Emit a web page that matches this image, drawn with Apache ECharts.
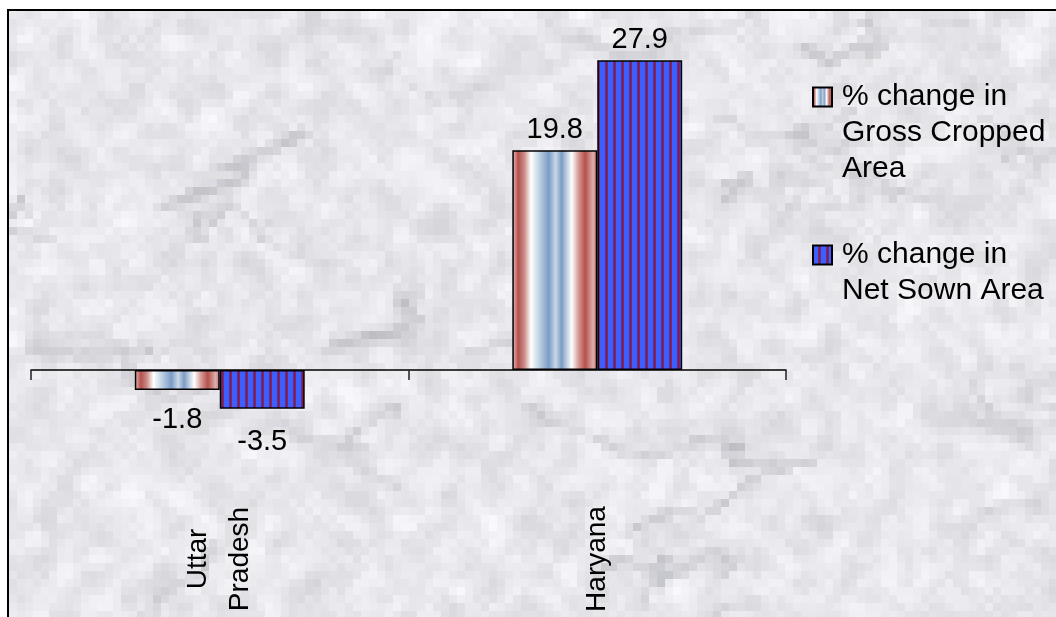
<!DOCTYPE html>
<html><head><meta charset="utf-8">
<script src="https://cdn.jsdelivr.net/npm/echarts@6/dist/echarts.min.js"></script>
<style>
html,body{margin:0;padding:0;background:#fff;overflow:hidden;width:1056px;height:617px;}
#frame{position:absolute;left:7px;top:9px;width:1100px;height:700px;border-left:2px solid #000;border-top:2px solid #000;}
#chart{position:absolute;left:0;top:0;width:1056px;height:617px;}
</style></head><body>
<div id="frame"></div><div id="chart"></div>
<script>
// ---- data ----
const categories = ['Uttar\nPradesh', 'Haryana'];
const grossCroppedChange = [-1.8, 19.8];
const netSownChange = [-3.5, 27.9];
const seriesNames = ['% change in\nGross Cropped\nArea', '% change in\nNet Sown Area'];

const FONT = '"Liberation Sans", Arial, Helvetica, sans-serif';

// ---- marble-like background texture (style only) ----
(function () {
  const B = 8;
  const W = 1100, H = 700;
  const lw = Math.ceil(W / B), lh = Math.ceil(H / B);
  const small = document.createElement('canvas'); small.width = lw; small.height = lh;
  const sg = small.getContext('2d');
  let s = 424242;
  const rnd = () => { s = (s * 1103515245 + 12345) & 0x7fffffff; return s / 0x7fffffff; };
  const base = [];
  for (let i = 0; i < lw * lh; i++) base.push(rnd());
  const img = sg.createImageData(lw, lh);
  for (let y = 0; y < lh; y++) for (let x = 0; x < lw; x++) {
    let acc = 0, n = 0;
    for (let dy = -1; dy <= 1; dy++) for (let dx = -1; dx <= 1; dx++) {
      const xx = x + dx, yy = y + dy;
      if (xx >= 0 && yy >= 0 && xx < lw && yy < lh) { acc += base[yy * lw + xx]; n++; }
    }
    const sm = acc / n;
    const v = Math.round(204 + sm * 46 + base[y * lw + x] * 10);
    const k = (y * lw + x) * 4;
    img.data[k] = v; img.data[k + 1] = v; img.data[k + 2] = Math.min(255, v + 4); img.data[k + 3] = 255;
  }
  sg.putImageData(img, 0, 0);
  sg.lineCap = 'round';
  for (let i = 0; i < 45; i++) {
    sg.strokeStyle = 'rgba(120,120,132,' + (0.12 + rnd() * 0.18) + ')';
    sg.lineWidth = 0.6 + rnd() * 0.8;
    sg.beginPath();
    let x = rnd() * lw, y = rnd() * lh;
    sg.moveTo(x, y);
    for (let k = 0; k < 6; k++) { x += (rnd() - 0.3) * 9; y += (rnd() - 0.5) * 6; sg.lineTo(x, y); }
    sg.stroke();
  }
  const c = document.createElement('canvas'); c.width = W; c.height = H;
  const g = c.getContext('2d');
  g.imageSmoothingEnabled = false;
  g.drawImage(small, 0, 0, lw * B, lh * B);
  document.getElementById('frame').style.backgroundImage = 'url(' + c.toDataURL() + ')';
})();

// ---- fills ----
const grossFill = {
  type: 'linear', x: 0, y: 0, x2: 1, y2: 0,
  colorStops: [
    { offset: 0, color: '#e6c4c2' }, { offset: 0.07, color: '#b4504c' },
    { offset: 0.14, color: '#c98a86' }, { offset: 0.22, color: '#ffffff' },
    { offset: 0.33, color: '#b7cbe0' }, { offset: 0.43, color: '#7c9cc4' },
    { offset: 0.51, color: '#c9d8e8' }, { offset: 0.58, color: '#7c9cc4' },
    { offset: 0.70, color: '#ffffff' }, { offset: 0.78, color: '#d49a96' },
    { offset: 0.86, color: '#b4504c' }, { offset: 0.95, color: '#dcaeab' },
    { offset: 1, color: '#c07470' }
  ]
};
const pc = document.createElement('canvas'); pc.width = 8; pc.height = 8;
const pg = pc.getContext('2d');
pg.fillStyle = '#3c60ff'; pg.fillRect(0, 0, 8, 8);
pg.fillStyle = '#6a2c8c'; pg.fillRect(5, 0, 1, 8); pg.fillRect(7, 0, 1, 8);
pg.fillStyle = '#8c1a30'; pg.fillRect(6, 0, 1, 8);
const netFill = { image: pc, repeat: 'repeat' };

const chart = echarts.init(document.getElementById('chart'), null, { renderer: 'canvas' });

// negative values get their label below the bar, a bit further away
function barData(arr, negDistance) {
  return arr.map(v => ({
    value: v,
    label: v < 0 ? { position: 'bottom', distance: negDistance } : { position: 'top', distance: 6 }
  }));
}

const labelStyle = { show: true, fontSize: 29, color: '#000', fontFamily: FONT };

const legendCommon = {
  orient: 'vertical', left: 812, padding: 0, itemWidth: 19, itemHeight: 19,
  selectedMode: false, icon: 'rect'
};
const legendText = { fontSize: 30, lineHeight: 36, color: '#000', fontFamily: FONT, padding: [0, 0, 0, 5] };

chart.setOption({
  animation: false,
  backgroundColor: 'transparent',
  textStyle: { fontFamily: FONT },
  grid: { left: 31, right: 270, top: 37, height: 444, outerBoundsMode: 'none', containLabel: false },
  xAxis: {
    type: 'category', data: categories,
    axisLine: { onZero: true, lineStyle: { color: '#000', width: 1.5 } },
    axisTick: { show: true, length: 10, lineStyle: { color: '#222', width: 1.5 } },
    axisLabel: {
      rotate: 90, margin: 78, align: 'center', verticalAlign: 'middle',
      fontSize: 28, lineHeight: 42, color: '#000', fontFamily: FONT
    },
    splitLine: { show: false }
  },
  yAxis: { type: 'value', min: -10, max: 30, show: false },
  legend: [
    Object.assign({}, legendCommon, {
      top: 7, data: [seriesNames[0]],
      formatter: n => '\n\n' + n,
      textStyle: legendText
    }),
    Object.assign({}, legendCommon, {
      top: 201, data: [seriesNames[1]],
      formatter: n => '\n' + n,
      textStyle: legendText
    })
  ],
  series: [
    {
      name: seriesNames[0], type: 'bar', data: barData(grossCroppedChange, 16),
      barGap: '0%', barCategoryGap: '55%',
      itemStyle: { color: grossFill, borderColor: '#000', borderWidth: 1.5 },
      label: labelStyle
    },
    {
      name: seriesNames[1], type: 'bar', data: barData(netSownChange, 19),
      barGap: '0%', barCategoryGap: '55%',
      itemStyle: { color: netFill, borderColor: '#000', borderWidth: 1.5 },
      label: labelStyle
    }
  ]
});
</script>
</body></html>
